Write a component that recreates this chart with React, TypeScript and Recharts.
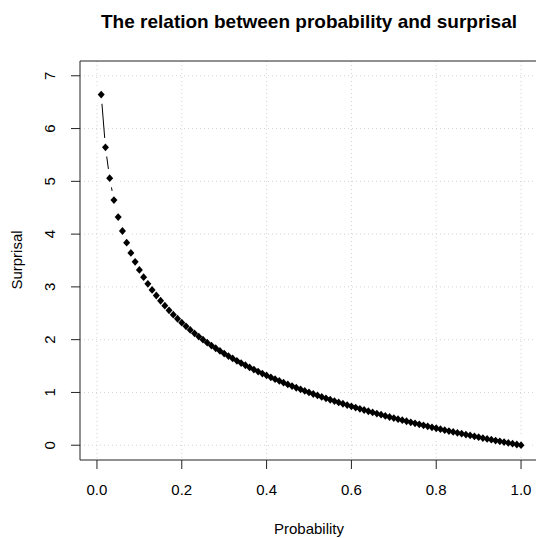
import React from "react";
import {
  LineChart,
  Line,
  XAxis,
  YAxis,
  CartesianGrid,
  ReferenceLine,
  Label,
} from "recharts";

const probability = [
  0.01, 0.02, 0.03, 0.04, 0.05, 0.06, 0.07, 0.08, 0.09, 0.1,
  0.11, 0.12, 0.13, 0.14, 0.15, 0.16, 0.17, 0.18, 0.19, 0.2,
  0.21, 0.22, 0.23, 0.24, 0.25, 0.26, 0.27, 0.28, 0.29, 0.3,
  0.31, 0.32, 0.33, 0.34, 0.35, 0.36, 0.37, 0.38, 0.39, 0.4,
  0.41, 0.42, 0.43, 0.44, 0.45, 0.46, 0.47, 0.48, 0.49, 0.5,
  0.51, 0.52, 0.53, 0.54, 0.55, 0.56, 0.57, 0.58, 0.59, 0.6,
  0.61, 0.62, 0.63, 0.64, 0.65, 0.66, 0.67, 0.68, 0.69, 0.7,
  0.71, 0.72, 0.73, 0.74, 0.75, 0.76, 0.77, 0.78, 0.79, 0.8,
  0.81, 0.82, 0.83, 0.84, 0.85, 0.86, 0.87, 0.88, 0.89, 0.9,
  0.91, 0.92, 0.93, 0.94, 0.95, 0.96, 0.97, 0.98, 0.99, 1.0,
];

const surprisal = [
  6.644, 5.644, 5.059, 4.644, 4.322, 4.059, 3.837, 3.644, 3.474, 3.322,
  3.185, 3.059, 2.943, 2.837, 2.737, 2.644, 2.556, 2.474, 2.396, 2.322,
  2.252, 2.185, 2.12, 2.059, 2.0, 1.943, 1.889, 1.837, 1.786, 1.737,
  1.69, 1.644, 1.6, 1.556, 1.515, 1.474, 1.434, 1.396, 1.358, 1.322,
  1.286, 1.252, 1.218, 1.185, 1.152, 1.12, 1.089, 1.059, 1.029, 1.0,
  0.971, 0.943, 0.916, 0.889, 0.862, 0.837, 0.811, 0.786, 0.761, 0.737,
  0.713, 0.69, 0.667, 0.644, 0.622, 0.6, 0.578, 0.556, 0.535, 0.515,
  0.494, 0.474, 0.454, 0.434, 0.415, 0.396, 0.377, 0.358, 0.34, 0.322,
  0.304, 0.286, 0.269, 0.252, 0.234, 0.218, 0.201, 0.185, 0.168, 0.152,
  0.136, 0.12, 0.105, 0.089, 0.074, 0.059, 0.044, 0.029, 0.014, 0.0,
];

const xTicks = [0, 0.2, 0.4, 0.6, 0.8, 1.0];
const yTicks = [0, 1, 2, 3, 4, 5, 6, 7];

const data = probability.map((p, i) => ({ p, s: surprisal[i] }));

const FONT = "'Liberation Sans', Arial, Helvetica, sans-serif";

const Diamond = (props: any) => {
  const { cx, cy } = props;
  if (cx == null || cy == null) return null;
  const w = 3.5;
  const h = 3.9;
  return (
    <polygon
      points={`${cx},${cy - h} ${cx + w},${cy} ${cx},${cy + h} ${cx - w},${cy}`}
      fill="#000"
      stroke="none"
    />
  );
};

const GapDot = (props: any) => {
  const { cx, cy } = props;
  if (cx == null || cy == null) return null;
  return <circle cx={cx} cy={cy} r={9.5} fill="#fff" stroke="none" />;
};

const YTick = (props: any) => {
  const { y, payload } = props;
  const tx = 50;
  return (
    <text
      x={tx}
      y={y}
      transform={`rotate(-90 ${tx} ${y})`}
      textAnchor="middle"
      dominantBaseline="central"
      fontFamily={FONT}
      fontSize={15}
      fill="#000"
    >
      {payload.value}
    </text>
  );
};

const XTick = (props: any) => {
  const { x, payload } = props;
  return (
    <text
      x={x}
      y={489}
      textAnchor="middle"
      dominantBaseline="central"
      fontFamily={FONT}
      fontSize={15}
      fill="#000"
    >
      {Number(payload.value).toFixed(1)}
    </text>
  );
};

export default function App() {
  return (
    <div style={{ position: "absolute", left: 0, top: 0, width: 536, height: 538, background: "#fff" }}>
      <div
        style={{
          position: "absolute",
          left: 80,
          width: 458,
          top: 10,
          textAlign: "center",
          fontFamily: FONT,
          fontWeight: "bold",
          fontSize: 19,
          lineHeight: "24px",
          color: "#000",
          zIndex: 2,
          whiteSpace: "nowrap",
        }}
      >
        The relation between probability and surprisal
      </div>
      <LineChart
        width={536}
        height={538}
        data={data}
        margin={{ top: 61, right: -2, bottom: 0, left: 0 }}
      >
        <XAxis
          dataKey="p"
          type="number"
          domain={[-0.04, 1.04]}
          ticks={xTicks}
          allowDataOverflow
          height={78}
          tickSize={9}
          axisLine={{ stroke: "#222", strokeWidth: 1 }}
          tickLine={{ stroke: "#222", strokeWidth: 1 }}
          tick={<XTick />}
          interval={0}
        >
          <Label
            value="Probability"
            content={() => (
              <text
                x={309}
                y={528}
                textAnchor="middle"
                dominantBaseline="central"
                fontFamily={FONT}
                fontSize={15}
                fill="#000"
              >
                Probability
              </text>
            )}
          />
        </XAxis>
        <YAxis
          type="number"
          domain={[-0.28, 7.28]}
          ticks={yTicks}
          allowDataOverflow
          width={80}
          tickSize={9}
          axisLine={{ stroke: "#222", strokeWidth: 1 }}
          tickLine={{ stroke: "#222", strokeWidth: 1 }}
          tick={<YTick />}
          interval={0}
        >
          <Label
            value="Surprisal"
            content={() => (
              <text
                x={16}
                y={260}
                transform="rotate(-90 16 260)"
                textAnchor="middle"
                dominantBaseline="central"
                fontFamily={FONT}
                fontSize={15}
                fill="#000"
              >
                Surprisal
              </text>
            )}
          />
        </YAxis>
        <Line
          dataKey="s"
          type="linear"
          stroke="#000"
          strokeWidth={1}
          dot={false}
          activeDot={false}
          isAnimationActive={false}
        />
        <Line
          dataKey="s"
          type="linear"
          stroke="none"
          dot={<GapDot />}
          activeDot={false}
          isAnimationActive={false}
        />
        <CartesianGrid
          stroke="#d3d3d3"
          strokeDasharray="1 3"
          horizontalValues={yTicks}
          verticalValues={xTicks}
        />
        <ReferenceLine y={7.28} stroke="#222" strokeWidth={1} ifOverflow="visible" />
        <Line
          dataKey="s"
          type="linear"
          stroke="none"
          dot={<Diamond />}
          activeDot={false}
          isAnimationActive={false}
        />
      </LineChart>
    </div>
  );
}
